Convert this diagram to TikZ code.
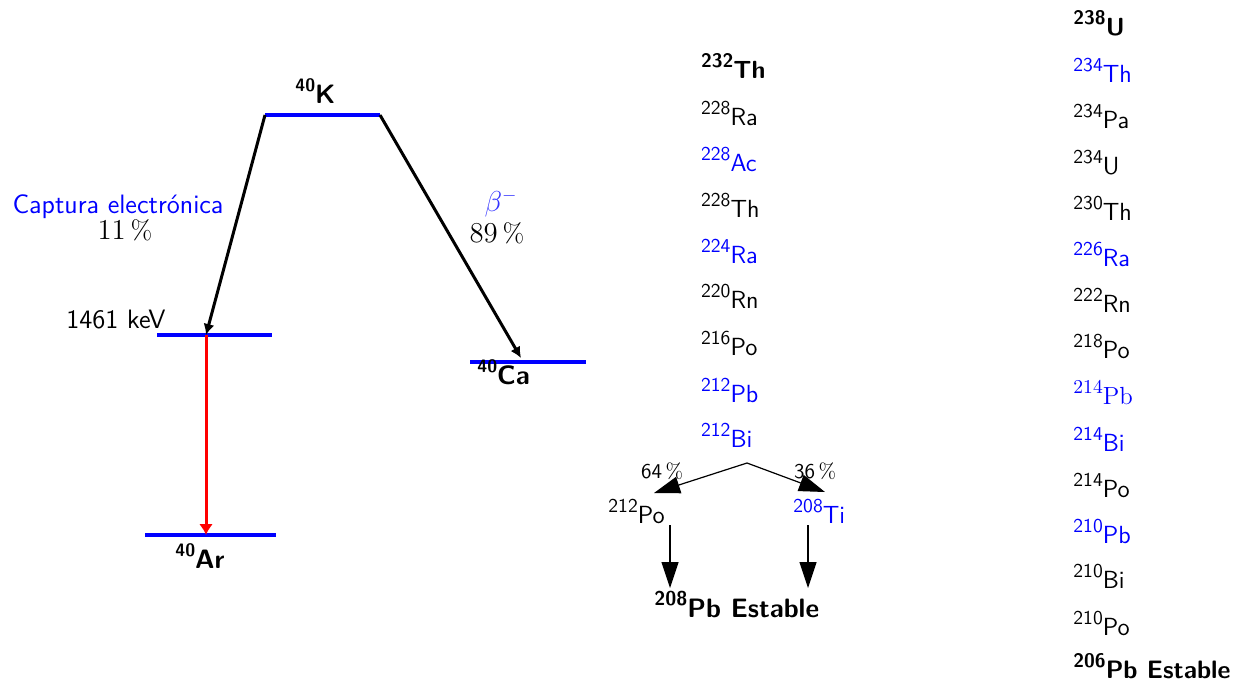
\documentclass[tikz,border=0pt]{standalone}
\usepackage{fontspec}
\usetikzlibrary{arrows.meta}
\newcommand\nuc[3]{\raisebox{0.42em}{\fontsize{#1}{#1}\selectfont #2}#3}
\tikzset{
  lvl/.style={draw=blue, line width=1.6pt},
  col/.style={anchor=base west, inner sep=0pt, font=\sffamily\fontsize{12.4}{14}\selectfont},
  big/.style={inner sep=0pt, font=\sffamily\fontsize{13.3}{15}\selectfont},
  arr/.style={-{Latex[length=5.5pt,width=5.5pt]}, line width=1.5pt},
  redarr/.style={-{Latex[length=5.5pt,width=7pt]}, line width=1.5pt, draw=red},
  bigarr/.style={-{Triangle[length=13pt,width=8.5pt]}, line width=0.6pt},
  pct/.style={inner sep=0pt, anchor=base, font=\sffamily\fontsize{10.5}{12}\selectfont}
}
\begin{document}
\begin{tikzpicture}[x=0.5pt,y=-0.5pt]
\useasboundingbox (0,0) rectangle (1240,681);
% ---- 40K scheme ----
\coordinate (Kl) at (265,115); \coordinate (Kr) at (380,115);
\coordinate (El) at (157,335); \coordinate (Er) at (272,335); \coordinate (Em) at (206,335);
\coordinate (Al) at (145,535); \coordinate (Ar) at (276,535); \coordinate (Am) at (206,535);
\coordinate (Cl) at (470,362); \coordinate (Cr) at (586,362); \coordinate (Cm) at (521,358);
\draw[lvl] (Kl) -- (Kr);
\draw[lvl] (El) -- (Er);
\draw[lvl] (Al) -- (Ar);
\draw[lvl] (Cl) -- (Cr);
\draw[arr] (Kl) -- (Em);
\draw[arr] (Kr) -- (Cm);
\draw[redarr] (Em) -- (Am);
\node[big, anchor=base west] (K) at (295,103) {\bfseries\nuc{9}{40}{K}};
\node[big, anchor=base west] (ArL) at (175,568) {\bfseries\nuc{9}{40}{Ar}};
\node[big, anchor=base west] (CaL) at (477,384) {\bfseries\nuc{9}{40}{Ca}};
\node[big, anchor=base east] (keV) at (166,328) {1461 keV};
\node[big, anchor=base, text=blue] (cap) at (118,213) {Captura electrónica};
\node[big, anchor=base] (p11) at (125,239) {$11\,\%$};
\node[big, anchor=base, text=blue!80] (beta) at (501,211) {$\beta^{-}$};
\node[big, anchor=base] (p89) at (497,242) {$89\,\%$};
% ---- Thorium series ----
\node[col] (t1) at (700.7,78) {\bfseries\nuc{9.8}{232}{Th}};
\node[col] (t2) at (700.7,125) {\nuc{9.8}{228}{Ra}};
\node[col, text=blue] (t3) at (700.7,171) {\nuc{9.8}{228}{Ac}};
\node[col] (t4) at (700.7,217) {\nuc{9.8}{228}{Th}};
\node[col, text=blue] (t5) at (700.7,263) {\nuc{9.8}{224}{Ra}};
\node[col] (t6) at (700.7,308) {\nuc{9.8}{220}{Rn}};
\node[col] (t7) at (700.7,355) {\nuc{9.8}{216}{Po}};
\node[col, text=blue] (t8) at (700.7,402) {\nuc{9.8}{212}{Pb}};
\node[col, text=blue] (t9) at (700.7,447) {\nuc{9.8}{212}{Bi}};
\coordinate (br) at (747,463);
\coordinate (bl) at (654,493);
\coordinate (bt) at (825,492);
\draw[bigarr] (br) -- (bl);
\draw[bigarr] (br) -- (bt);
\node[pct] (p64) at (662,478) {64\,$\%$};
\node[pct] (p36) at (815,478) {36\,$\%$};
\node[col] (po) at (608,523) {\nuc{9.8}{212}{Po}};
\node[col, text=blue] (ti) at (793,523) {\nuc{9.8}{208}{Ti}};
\coordinate (v1a) at (670,525); \coordinate (v1b) at (670,588);
\coordinate (v2a) at (808,525); \coordinate (v2b) at (808,588);
\draw[bigarr] (v1a) -- (v1b);
\draw[bigarr] (v2a) -- (v2b);
\node[big, anchor=base west] (pb208) at (654,617) {\bfseries\nuc{10}{208}{Pb Estable}};
% ---- Uranium series ----
\node[col] (u1) at (1073,35) {\bfseries\nuc{9.8}{238}{U}};
\node[col, text=blue] (u2) at (1073,82) {\nuc{9.8}{234}{Th}};
\node[col] (u3) at (1073,128) {\nuc{9.8}{234}{Pa}};
\node[col] (u4) at (1073,174) {\nuc{9.8}{234}{U}};
\node[col] (u5) at (1073,220) {\nuc{9.8}{230}{Th}};
\node[col, text=blue] (u6) at (1073,266) {\nuc{9.8}{226}{Ra}};
\node[col] (u7) at (1073,312) {\nuc{9.8}{222}{Rn}};
\node[col] (u8) at (1073,358) {\nuc{9.8}{218}{Po}};
\node[col, text=blue] (u9) at (1073,404) {\rmfamily\nuc{9.8}{214}{Pb}};
\node[col, text=blue] (u10) at (1073,451) {\nuc{9.8}{214}{Bi}};
\node[col] (u11) at (1073,497) {\nuc{9.8}{214}{Po}};
\node[col, text=blue] (u12) at (1073,543) {\nuc{9.8}{210}{Pb}};
\node[col] (u13) at (1073,588) {\nuc{9.8}{210}{Bi}};
\node[col] (u14) at (1073,635) {\nuc{9.8}{210}{Po}};
\node[col, font=\sffamily\fontsize{12.6}{14}\selectfont] (u15) at (1073,678) {\bfseries\nuc{9.8}{206}{Pb Estable}};
\end{tikzpicture}
\end{document}
